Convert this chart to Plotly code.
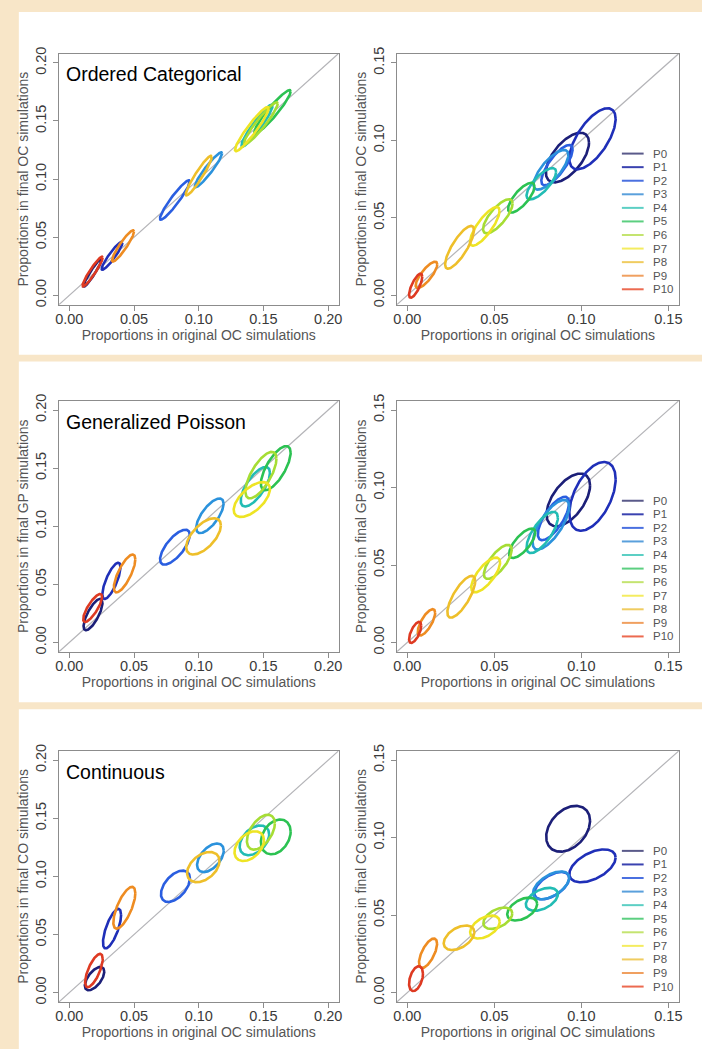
import numpy as np
import plotly.graph_objects as go

W, H = 702, 1049

labels = ["P%d" % i for i in range(11)]
colors = ["#1c1f78", "#1f2fb8", "#2a5ee0", "#2b92dc", "#22bcb4", "#2cc252",
          "#a6dd34", "#eee424", "#eebf2a", "#ee8c22", "#de3a22"]
legend_colors = ["#5a5a8a", "#3a42b0", "#4a70e0", "#5aa0dc", "#5ccfc4", "#5ccf80",
                 "#c4e470", "#f4ec60", "#f0cc60", "#f0a060", "#ec6a50"]

# ellipse parameters per panel: centre x, centre y, half-width x, half-height y, correlation
# --- Ordered Categorical ---
oc_l_cx = [0.0180, 0.0330, 0.0815, 0.1075, 0.1450, 0.1570, 0.1480, 0.1410, 0.1000, 0.0415, 0.0180]
oc_l_cy = [0.0195, 0.0340, 0.0820, 0.1080, 0.1460, 0.1580, 0.1480, 0.1430, 0.1030, 0.0425, 0.0205]
oc_l_sx = [0.0070, 0.0080, 0.0115, 0.0105, 0.0120, 0.0140, 0.0130, 0.0130, 0.0100, 0.0085, 0.0078]
oc_l_sy = [0.0120, 0.0120, 0.0170, 0.0150, 0.0180, 0.0185, 0.0180, 0.0190, 0.0170, 0.0135, 0.0128]
oc_l_r = [0.95, 0.93, 0.94, 0.94, 0.94, 0.94, 0.94, 0.94, 0.94, 0.92, 0.94]

oc_r_cx = [0.0920, 0.1064, 0.0860, 0.0825, 0.0770, 0.0655, 0.0520, 0.0445, 0.0300, 0.0110, 0.0048]
oc_r_cy = [0.0889, 0.1010, 0.0840, 0.0810, 0.0720, 0.0630, 0.0510, 0.0445, 0.0310, 0.0132, 0.0062]
oc_r_sx = [0.0124, 0.0133, 0.0090, 0.0100, 0.0085, 0.0076, 0.0085, 0.0085, 0.0083, 0.0062, 0.0038]
oc_r_sy = [0.0160, 0.0197, 0.0130, 0.0128, 0.0101, 0.0096, 0.0110, 0.0125, 0.0138, 0.0085, 0.0078]
oc_r_r = [0.60, 0.65, 0.78, 0.75, 0.75, 0.75, 0.75, 0.80, 0.80, 0.80, 0.75]

# --- Generalized Poisson ---
gp_l_cx = [0.0183, 0.0325, 0.0816, 0.1086, 0.1437, 0.1595, 0.1480, 0.1410, 0.1037, 0.0427, 0.0180]
gp_l_cy = [0.0240, 0.0530, 0.0820, 0.1090, 0.1340, 0.1500, 0.1440, 0.1230, 0.0913, 0.0594, 0.0297]
gp_l_sx = [0.0073, 0.0070, 0.0115, 0.0106, 0.0113, 0.0115, 0.0120, 0.0140, 0.0134, 0.0083, 0.0073]
gp_l_sy = [0.0135, 0.0156, 0.0150, 0.0149, 0.0170, 0.0190, 0.0200, 0.0150, 0.0156, 0.0163, 0.0120]
gp_l_r = [0.75, 0.75, 0.70, 0.70, 0.70, 0.70, 0.70, 0.60, 0.60, 0.75, 0.80]

gp_r_cx = [0.0925, 0.1064, 0.0840, 0.0825, 0.0775, 0.0660, 0.0520, 0.0450, 0.0310, 0.0110, 0.0045]
gp_r_cy = [0.0920, 0.0943, 0.0800, 0.0760, 0.0710, 0.0640, 0.0520, 0.0436, 0.0295, 0.0130, 0.0065]
gp_r_sx = [0.0125, 0.0133, 0.0090, 0.0105, 0.0090, 0.0075, 0.0080, 0.0083, 0.0080, 0.0050, 0.0035]
gp_r_sy = [0.0170, 0.0222, 0.0140, 0.0160, 0.0133, 0.0095, 0.0110, 0.0112, 0.0135, 0.0085, 0.0068]
gp_r_r = [0.55, 0.50, 0.72, 0.72, 0.72, 0.72, 0.72, 0.72, 0.75, 0.72, 0.65]

# --- Continuous ---
co_l_cx = [0.0195, 0.0330, 0.0820, 0.1090, 0.1430, 0.1595, 0.1480, 0.1390, 0.1035, 0.0425, 0.0190]
co_l_cy = [0.0120, 0.0550, 0.0915, 0.1160, 0.1310, 0.1340, 0.1380, 0.1260, 0.1080, 0.0730, 0.0190]
co_l_sx = [0.0075, 0.0070, 0.0112, 0.0103, 0.0114, 0.0115, 0.0108, 0.0114, 0.0125, 0.0085, 0.0068]
co_l_sy = [0.0100, 0.0170, 0.0135, 0.0123, 0.0128, 0.0150, 0.0150, 0.0128, 0.0130, 0.0180, 0.0143]
co_l_r = [0.60, 0.70, 0.50, 0.50, 0.40, 0.30, 0.50, 0.40, 0.40, 0.70, 0.70]

co_r_cx = [0.0924, 0.1064, 0.0830, 0.0826, 0.0773, 0.0660, 0.0520, 0.0446, 0.0297, 0.0119, 0.0050]
co_r_cy = [0.1057, 0.0818, 0.0690, 0.0692, 0.0602, 0.0539, 0.0480, 0.0423, 0.0354, 0.0254, 0.0090]
co_r_sx = [0.0126, 0.0133, 0.0100, 0.0104, 0.0092, 0.0086, 0.0083, 0.0085, 0.0088, 0.0052, 0.0040]
co_r_sy = [0.0148, 0.0106, 0.0088, 0.0090, 0.0074, 0.0074, 0.0069, 0.0074, 0.0079, 0.0095, 0.0080]
co_r_r = [0.35, 0.50, 0.55, 0.55, 0.45, 0.45, 0.45, 0.45, 0.45, 0.65, 0.40]

panel_titles = ["Ordered Categorical", "Generalized Poisson", "Continuous"]
y_titles = ["Proportions in final OC simulations",
            "Proportions in final GP simulations",
            "Proportions in final CO simulations"]
x_title = "Proportions in original OC simulations"

left_ticks = [0.0, 0.05, 0.10, 0.15, 0.20]
right_ticks = [0.0, 0.05, 0.10, 0.15]
left_range = [-0.008, 0.208]
right_range = [-0.006, 0.156]

panels = [
    (oc_l_cx, oc_l_cy, oc_l_sx, oc_l_sy, oc_l_r, oc_r_cx, oc_r_cy, oc_r_sx, oc_r_sy, oc_r_r),
    (gp_l_cx, gp_l_cy, gp_l_sx, gp_l_sy, gp_l_r, gp_r_cx, gp_r_cy, gp_r_sx, gp_r_sy, gp_r_r),
    (co_l_cx, co_l_cy, co_l_sx, co_l_sy, co_l_r, co_r_cx, co_r_cy, co_r_sx, co_r_sy, co_r_r),
]

# layout geometry (pixels)
row_offsets = [0, 350.5, 704]
frame_top, frame_bot = 47, 300.5
left_x = (55.6, 338.4)
right_x = (397.4, 682.6)
BEIGE = "#f8e6c8"

t = np.linspace(0, 2 * np.pi, 181)


def ellipse(cx, cy, sx, sy, r):
    x = cx + sx * np.cos(t)
    y = cy + sy * (r * np.cos(t) + np.sqrt(1 - r * r) * np.sin(t))
    return x, y


fig = go.Figure()
shapes = []
annotations = []
FONT = "Liberation Sans, Arial, sans-serif"

# beige page background: left strip, top band, two separator bands
for (x0, x1, y0, y1) in [(-10, 15, -10, H + 20), (-10, W + 20, -10, 5),
                         (-10, W + 20, 351, 358), (-10, W + 20, 702, 709)]:
    shapes.append(dict(type="rect", xref="paper", yref="paper", x0=x0 / W, x1=x1 / W,
                       y0=1 - y1 / H, y1=1 - y0 / H, fillcolor=BEIGE, line_width=0, layer="below"))

ax_i = 0
for row in range(3):
    off = row_offsets[row]
    ydom = [1 - (frame_bot + off) / H, 1 - (frame_top + off) / H]
    data = panels[row]
    for col in range(2):
        ax_i += 1
        xa = "x" if ax_i == 1 else "x%d" % ax_i
        ya = "y" if ax_i == 1 else "y%d" % ax_i
        xdom_px = left_x if col == 0 else right_x
        xdom = [xdom_px[0] / W, xdom_px[1] / W]
        rng = left_range if col == 0 else right_range
        ticks = left_ticks if col == 0 else right_ticks
        cxs, cys, sxs, sys_, rs = data[col * 5: col * 5 + 5]
        # diagonal reference line
        fig.add_trace(go.Scatter(x=rng, y=rng, mode="lines", line=dict(color="#b4b4b8", width=1.2),
                                 xaxis=xa, yaxis=ya, showlegend=False, hoverinfo="skip"))
        for k in range(11):
            ex, ey = ellipse(cxs[k], cys[k], sxs[k], sys_[k], rs[k])
            fig.add_trace(go.Scatter(x=ex, y=ey, mode="lines", line=dict(color=colors[k], width=2.6),
                                     xaxis=xa, yaxis=ya, showlegend=False, name=labels[k]))
        axis_common = dict(range=rng, tickvals=ticks, ticktext=["%.2f" % v for v in ticks],
                           showgrid=False, zeroline=False, showline=True, mirror=True,
                           linecolor="#8c8c8c", linewidth=1, ticks="outside", ticklen=5,
                           tickcolor="#8c8c8c", tickfont=dict(family=FONT, size=14.5, color="#3a3a3a"))
        fig.layout["xaxis" if ax_i == 1 else "xaxis%d" % ax_i] = dict(
            domain=xdom, anchor=ya, ticklabelstandoff=-4, **axis_common,
            title=dict(text=x_title, font=dict(family=FONT, size=14, color="#555555"), standoff=2))
        fig.layout["yaxis" if ax_i == 1 else "yaxis%d" % ax_i] = dict(
            domain=ydom, anchor=xa, tickangle=-90, ticklabelstandoff=1, **axis_common,
            title=dict(text=y_titles[row], font=dict(family=FONT, size=14, color="#555555"), standoff=1))
        if col == 0:
            annotations.append(dict(text=panel_titles[row], xref="paper", yref="paper",
                                    x=61 / W, y=1 - (68 + off) / H, xanchor="left", yanchor="middle",
                                    showarrow=False, font=dict(family=FONT, size=19.5, color="black")))
        else:
            for k in range(11):
                yy = 148 + off + k * 13.7
                shapes.append(dict(type="line", xref="paper", yref="paper", x0=625 / W, x1=647 / W,
                                   y0=1 - yy / H, y1=1 - yy / H, line=dict(color=legend_colors[k], width=2)))
                annotations.append(dict(text=labels[k], xref="paper", yref="paper", x=654 / W,
                                        y=1 - yy / H, xanchor="left", yanchor="middle", showarrow=False,
                                        font=dict(family=FONT, size=11.5, color="#555555")))

fig.update_layout(width=W, height=H, margin=dict(l=0, r=0, t=0, b=0),
                  paper_bgcolor="white", plot_bgcolor="white", showlegend=False,
                  shapes=shapes, annotations=annotations)
fig.write_html("out.html", config={"displayModeBar": False},
               post_script="document.body.style.margin='0';document.body.style.padding='0';"
                           "document.documentElement.style.overflow='hidden';")
